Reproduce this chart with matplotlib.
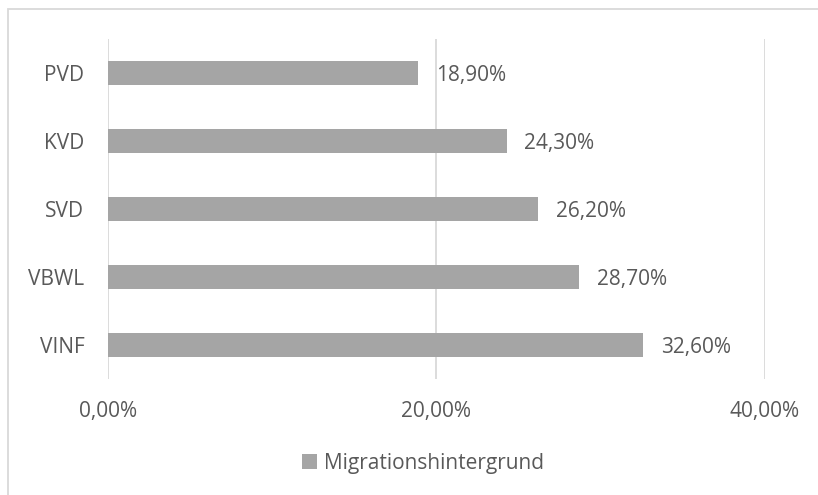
import matplotlib.pyplot as plt
from matplotlib.patches import Rectangle
from matplotlib.transforms import ScaledTranslation

plt.rcParams['font.family'] = ['Open Sans', 'DejaVu Sans']

categories = ["VINF", "VBWL", "SVD", "KVD", "PVD"]
values = [32.6, 28.7, 26.2, 24.3, 18.9]
xticks = [0, 20, 40]
series_name = "Migrationshintergrund"

bar_color = "#A5A5A5"
text_color = "#595959"
grid_color = "#D9D9D9"
fs = 15

fig = plt.figure(figsize=(8.18, 4.95), dpi=100)
ax = fig.add_axes([108 / 818, 1 - 379 / 495, (765 - 108) / 818, 340 / 495])

y = range(len(categories))
bars = ax.barh(y, values, height=0.35, color=bar_color, zorder=2, label=series_name)

# value labels sit a bit right of and slightly below each bar end
shift = ax.transData + ScaledTranslation(0, -3 / 100, fig.dpi_scale_trans)
for b, v in zip(bars, values):
    ax.text(v + 1.05, b.get_y() + b.get_height() / 2, f"{v:.2f}%".replace(".", ","),
            va="center", ha="left", fontsize=fs, color=text_color, transform=shift)

ax.set_xlim(0, 40)
ax.set_ylim(-0.5, len(categories) - 0.5)
ax.set_xticks(xticks)
ax.set_xticklabels([f"{t:.2f}%".replace(".", ",") for t in xticks], fontsize=fs, color=text_color)
ax.set_yticks(list(y))
ax.set_yticklabels(categories, fontsize=fs, color=text_color)
ax.tick_params(axis="x", length=0, pad=16)
ax.tick_params(axis="y", length=0, pad=17)
ax.xaxis.grid(True, color=grid_color, linewidth=1.3, zorder=0)
for s in ax.spines.values():
    s.set_visible(False)

leg = fig.legend(handles=[bars], labels=[series_name], loc="center",
                 bbox_to_anchor=(423 / 818, 1 - 463 / 495), frameon=False,
                 fontsize=fs, handlelength=0.7, handleheight=0.7, handletextpad=0.35)
for t in leg.get_texts():
    t.set_color(text_color)

# chart border (right and bottom edges run off the canvas)
fig.patches.append(Rectangle((8 / 818, -10 / 495), 830 / 818, 496 / 495, transform=fig.transFigure,
                             fill=False, edgecolor="#D9D9D9", linewidth=1.3))

fig.savefig("out.png", dpi=100)
